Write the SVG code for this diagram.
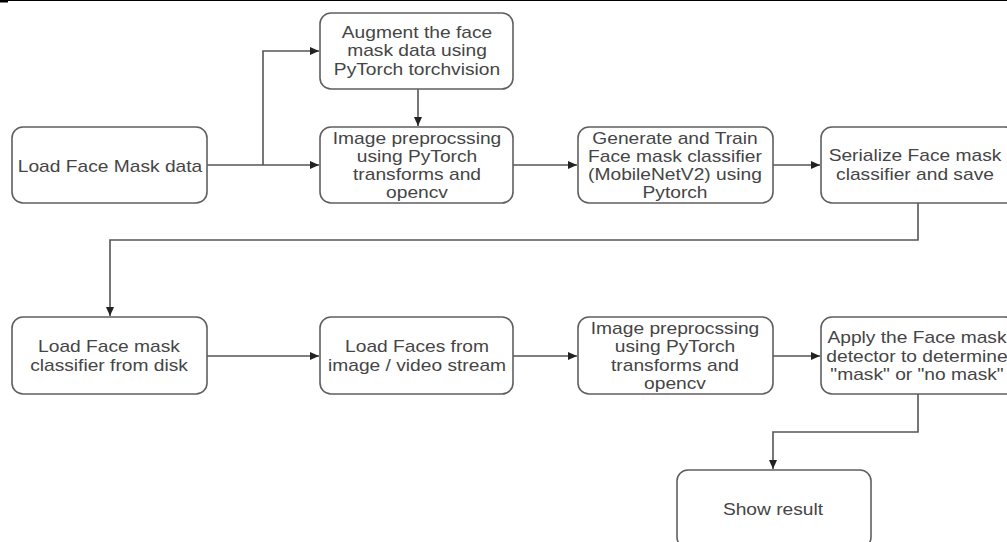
<svg xmlns="http://www.w3.org/2000/svg" width="1007" height="542" viewBox="0 0 1007 542">
<style>
.box{fill:#fff;stroke:#5f5f5f;stroke-width:1.6}
.lbl{font-family:"Liberation Sans",Arial,sans-serif;font-size:16px;fill:#454545;text-anchor:middle}
.con{fill:none;stroke:#555;stroke-width:1.6}
</style>
<defs>
<marker id="ah" markerWidth="10" markerHeight="10" refX="9" refY="5" orient="auto" markerUnits="userSpaceOnUse">
<path d="M0,1 L9,5 L0,9 Z" fill="#222"/>
</marker>
</defs>
<rect width="1007" height="542" fill="#fff"/>
<line x1="0" y1="0.5" x2="1007" y2="0.5" stroke="#000" stroke-width="1.2"/>
<rect x="0" y="0" width="8" height="2.5" fill="#000"/>

<g id="connectors">
<path class="con" d="M207,165 H319" marker-end="url(#ah)"/>
<path class="con" d="M263,165 V51 H319" marker-end="url(#ah)"/>
<path class="con" d="M418,89 V126" marker-end="url(#ah)"/>
<path class="con" d="M513,165 H577" marker-end="url(#ah)"/>
<path class="con" d="M773,165 H820" marker-end="url(#ah)"/>
<path class="con" d="M918,203 V240 H110 V316" marker-end="url(#ah)"/>
<path class="con" d="M207,356 H319" marker-end="url(#ah)"/>
<path class="con" d="M513,356 H577" marker-end="url(#ah)"/>
<path class="con" d="M773,356 H820" marker-end="url(#ah)"/>
<path class="con" d="M918,394 V432 H773 V469" marker-end="url(#ah)"/>
</g>

<g id="n1"><rect class="box" x="12" y="127" width="195" height="76" rx="11"/>
<text class="lbl" transform="translate(110,172) scale(1.2,1)">Load Face Mask data</text></g>

<g id="n2"><rect class="box" x="320" y="13" width="193" height="76" rx="11"/>
<text class="lbl" transform="translate(417,38) scale(1.2,1)"><tspan x="0" y="0">Augment the face</tspan><tspan x="0" y="18.5">mask data using</tspan><tspan x="0" y="37">PyTorch torchvision</tspan></text></g>

<g id="n3"><rect class="box" x="320" y="127" width="193" height="76" rx="11"/>
<text class="lbl" transform="translate(417,144) scale(1.2,1)"><tspan x="0" y="0">Image preprocssing</tspan><tspan x="0" y="18">using PyTorch</tspan><tspan x="0" y="36">transforms and</tspan><tspan x="0" y="54">opencv</tspan></text></g>

<g id="n4"><rect class="box" x="578" y="127" width="195" height="76" rx="11"/>
<text class="lbl" transform="translate(675,144) scale(1.2,1)"><tspan x="0" y="0">Generate and Train</tspan><tspan x="0" y="18">Face mask classifier</tspan><tspan x="0" y="36">(MobileNetV2) using</tspan><tspan x="0" y="54">Pytorch</tspan></text></g>

<g id="n5"><rect class="box" x="821" y="127" width="195" height="76" rx="11"/>
<text class="lbl" transform="translate(915,161) scale(1.2,1)"><tspan x="0" y="0">Serialize Face mask</tspan><tspan x="0" y="19">classifier and save</tspan></text></g>

<g id="n6"><rect class="box" x="12" y="317" width="195" height="77" rx="11"/>
<text class="lbl" transform="translate(109,352) scale(1.2,1)"><tspan x="0" y="0">Load Face mask</tspan><tspan x="0" y="19">classifier from disk</tspan></text></g>

<g id="n7"><rect class="box" x="320" y="317" width="193" height="77" rx="11"/>
<text class="lbl" transform="translate(417,352) scale(1.2,1)"><tspan x="0" y="0">Load Faces from</tspan><tspan x="0" y="19">image / video stream</tspan></text></g>

<g id="n8"><rect class="box" x="578" y="317" width="195" height="77" rx="11"/>
<text class="lbl" transform="translate(675,334) scale(1.2,1)"><tspan x="0" y="0">Image preprocssing</tspan><tspan x="0" y="18">using PyTorch</tspan><tspan x="0" y="37">transforms and</tspan><tspan x="0" y="55">opencv</tspan></text></g>

<g id="n9"><rect class="box" x="821" y="317" width="195" height="77" rx="11"/>
<text class="lbl" transform="translate(917,343) scale(1.2,1)"><tspan x="0" y="0">Apply the Face mask</tspan><tspan x="0" y="19">detector to determine</tspan><tspan x="0" y="37">"mask" or "no mask"</tspan></text></g>

<g id="n10"><rect class="box" x="677" y="470" width="194" height="78" rx="11"/>
<text class="lbl" transform="translate(773,515) scale(1.2,1)">Show result</text></g>
</svg>
